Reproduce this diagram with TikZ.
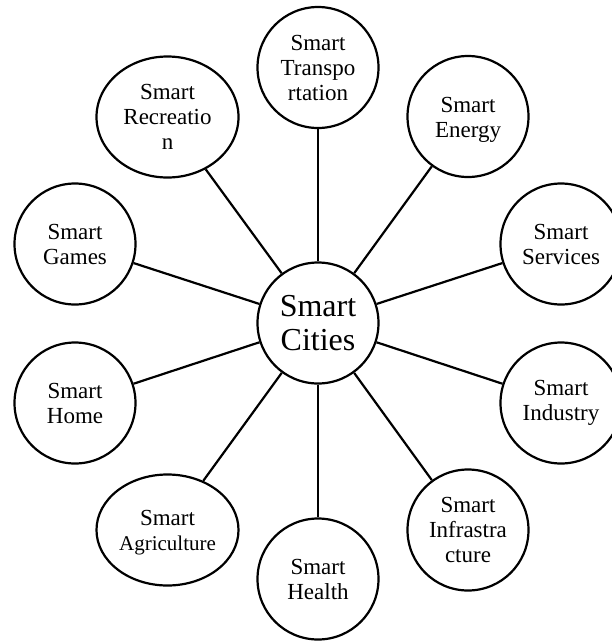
\documentclass[tikz,border=0pt]{standalone}
\usepackage{fontspec}
\usetikzlibrary{shapes.geometric}
\setmainfont{Liberation Serif}
\begin{document}
\begin{tikzpicture}[x=1pt,y=-1pt,
 circ/.style={draw,line width=2.2pt,ellipse,minimum width=121pt,minimum height=121pt,inner sep=0pt,align=center,font=\fontsize{23}{25}\selectfont},
 lowered/.style={align=center,font=\fontsize{23}{25}\selectfont,yshift=-3pt,inner sep=0pt},
 link/.style={line width=2.2pt}]
\useasboundingbox (0,0) rectangle (612,641);
\clip (0,0) rectangle (612,641);
\node[circ,font=\fontsize{32}{34}\selectfont] (c) at (318,323) {Smart\\Cities};
\node[circ] (a) at (318,67.5) {Smart\\Transpo\\rtation};
\node[circ,label={[lowered]center:Smart\\Energy}] (b) at (468,116.5) {};
\node[circ] (d) at (561,244) {Smart\\Services};
\node[circ] (e) at (561,403) {Smart\\Industry};
\node[circ] (f) at (468,530) {Smart\\Infrastra\\cture};
\node[circ] (g) at (318,579) {Smart\\Health};
\node[circ,minimum width=142pt,minimum height=111pt,label={[lowered]center:Smart\\{\fontsize{21}{23}\selectfont Agriculture}}] (h) at (167.5,530) {};
\node[circ] (i) at (75,403) {Smart\\Home};
\node[circ] (j) at (75,244) {Smart\\Games};
\node[circ,minimum width=142pt] (k) at (167.5,117) {Smart\\Recreatio\\n};
\foreach \n in {a,b,d,e,f,g,h,i,j,k} \draw[link] (c) -- (\n);
\end{tikzpicture}
\end{document}
